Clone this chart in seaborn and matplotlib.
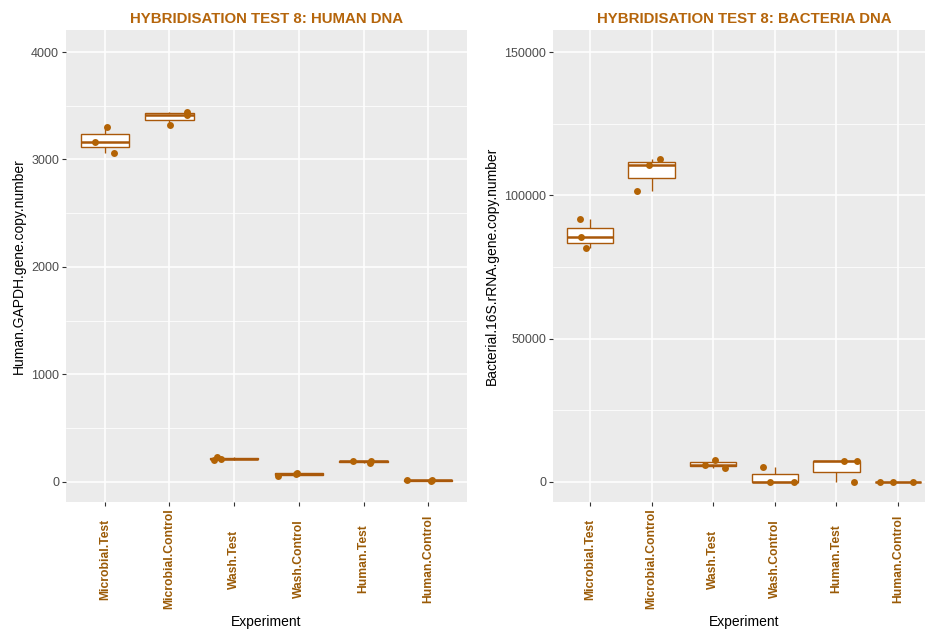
import numpy as np
import pandas as pd
import matplotlib
matplotlib.use("Agg")
import matplotlib.pyplot as plt
import seaborn as sns
from matplotlib.ticker import MultipleLocator

# ---- data ----
experiments = ["Microbial.Test", "Microbial.Control", "Wash.Test",
               "Wash.Control", "Human.Test", "Human.Control"]

human_gapdh = {
    "Microbial.Test":    [3305, 3060, 3165],
    "Microbial.Control": [3324, 3417, 3439],
    "Wash.Test":         [232, 215, 205],
    "Wash.Control":      [72, 56, 81],
    "Human.Test":        [174, 190, 193],
    "Human.Control":     [12, 14, 8],
}
bacterial_16s = {
    "Microbial.Test":    [91600, 81600, 85500],
    "Microbial.Control": [112800, 110700, 101600],
    "Wash.Test":         [7700, 5000, 6000],
    "Wash.Control":      [5200, 0, 0],
    "Human.Test":        [7300, 7200, 0],
    "Human.Control":     [0, 0, 0],
}

titles = ["HYBRIDISATION TEST 8: HUMAN DNA", "HYBRIDISATION TEST 8: BACTERIA DNA"]
ylabels = ["Human.GAPDH.gene.copy.number", "Bacterial.16S.rRNA.gene.copy.number"]
y_ticks = [[0, 1000, 2000, 3000, 4000], [0, 50000, 100000, 150000]]
y_limits = [(-190, 4205), (-7000, 157700)]

def to_long(d):
    rows = []
    for e in experiments:
        for v in d[e]:
            rows.append({"Experiment": e, "value": v})
    return pd.DataFrame(rows)

frames = [to_long(human_gapdh), to_long(bacterial_16s)]

# ---- style ----
sns.set_theme(style="darkgrid")
plt.rcParams["font.family"] = ["Liberation Sans", "DejaVu Sans"]

point_col = "#B36305"
box_col = "#A9580A"
title_col = "#B5650B"
xtick_col = "#9A5A06"

fig = plt.figure(figsize=(9.25, 6.31), dpi=100)
fig.patch.set_facecolor("white")
axes_pos = [[66/925, 1-502/631, (467-66)/925, (502-30)/631],
            [553/925, 1-502/631, (935-553)/925, (502-30)/631]]

np.random.seed(3)
for i, df in enumerate(frames):
    ax = fig.add_axes(axes_pos[i])
    ax.set_facecolor("#EBEBEB")
    sns.boxplot(data=df, x="Experiment", y="value", order=experiments,
                ax=ax, color="white", linecolor=box_col, linewidth=1.0,
                width=0.75, showfliers=False, whis=1.5,
                medianprops={"linewidth": 1.8, "color": box_col},
                capprops={"visible": False})
    sns.stripplot(data=df, x="Experiment", y="value", order=experiments,
                  ax=ax, color=point_col, jitter=0.35, size=5,
                  linewidth=0, zorder=5)
    ax.set_ylim(*y_limits[i])
    ax.set_xlim(-0.6, 5.6)
    ax.set_yticks(y_ticks[i])
    step = y_ticks[i][1] - y_ticks[i][0]
    ax.yaxis.set_minor_locator(MultipleLocator(step / 2))
    ax.grid(which="major", color="white", linewidth=1.1)
    ax.grid(which="minor", axis="y", color="white", linewidth=0.55)
    ax.set_axisbelow(True)
    for s in ax.spines.values():
        s.set_visible(False)
    ax.tick_params(axis="both", which="major", length=3, width=0.8,
                   color="#333333", direction="out", bottom=True, left=True)
    ax.tick_params(axis="y", which="minor", length=0)
    ax.tick_params(axis="y", labelsize=9, labelcolor="#4D4D4D", pad=2)
    ax.set_xticks(range(len(experiments)))
    ax.set_xticklabels(experiments, rotation=90, fontweight="bold",
                       color=xtick_col, fontsize=8.7, va="center")
    ax.tick_params(axis="x", pad=38)
    ax.set_xlabel("Experiment", fontsize=10, color="black", labelpad=4)
    ax.set_ylabel(ylabels[i], fontsize=10, color="black", labelpad=4)
    ax.set_title(titles[i], fontsize=10.8, fontweight="bold",
                 color=title_col, pad=5)

fig.savefig("out.png", dpi=100, facecolor="white")
